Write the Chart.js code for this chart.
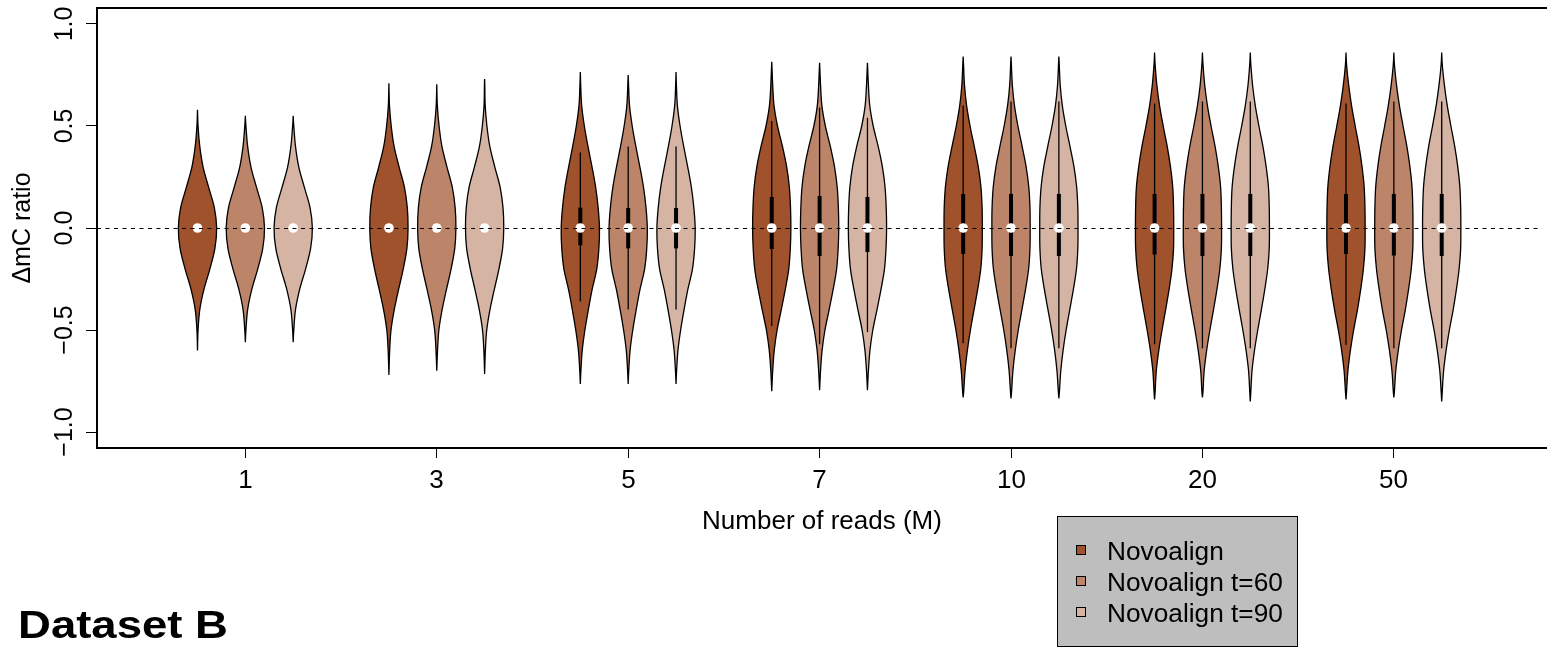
<!DOCTYPE html>
<html>
<head>
<meta charset="utf-8">
<title>Dataset B</title>
<script src="https://cdn.jsdelivr.net/npm/chart.js@4.4.1/dist/chart.umd.min.js"></script>
<style>
    html, body { margin: 0; padding: 0; background: #ffffff; }
    canvas { display: block; }
</style>
</head>
<body>
<canvas id="chart" width="1547" height="648"></canvas>
<script>
// number of reads (millions) on the x axis, one violin per aligner setting
var readCounts = ['1', '3', '5', '7', '10', '20', '50'];
var aligners = ['Novoalign', 'Novoalign t=60', 'Novoalign t=90'];
var yTicks = [-1, -0.5, 0, 0.5, 1];
var yTickLabels = ['\u22121.0', '\u22120.5', '0.0', '0.5', '1.0'];

// relative density (1 = widest) at these ratio levels, one row per read count
var densityLevels = [-0.8, -0.7, -0.6, -0.5, -0.4, -0.3, -0.2, -0.1, 0, 0.1, 0.2, 0.3, 0.4, 0.5, 0.6, 0.7, 0.8];
var densityByReads = [
    [0, 0, 0, 0.03, 0.12, 0.34, 0.65, 0.91, 1, 0.88, 0.58, 0.29, 0.12, 0.03, 0, 0, 0],
    [0, 0.01, 0.04, 0.11, 0.28, 0.51, 0.75, 0.94, 1, 0.96, 0.81, 0.53, 0.27, 0.12, 0.03, 0.01, 0],
    [0, 0.03, 0.10, 0.24, 0.42, 0.62, 0.86, 0.97, 1, 0.93, 0.80, 0.61, 0.40, 0.21, 0.07, 0.02, 0],
    [0, 0.05, 0.13, 0.28, 0.50, 0.71, 0.89, 0.97, 1, 0.98, 0.92, 0.78, 0.56, 0.30, 0.12, 0.05, 0],
    [0.03, 0.10, 0.22, 0.38, 0.57, 0.76, 0.92, 0.99, 1, 0.99, 0.93, 0.79, 0.58, 0.36, 0.18, 0.07, 0.02],
    [0.03, 0.09, 0.22, 0.39, 0.58, 0.76, 0.91, 0.99, 1, 0.99, 0.95, 0.83, 0.66, 0.45, 0.26, 0.12, 0.03],
    [0.03, 0.10, 0.23, 0.40, 0.60, 0.77, 0.91, 0.99, 1, 0.99, 0.95, 0.84, 0.68, 0.48, 0.29, 0.14, 0.03]
];

// per read count: [Novoalign, t=60, t=90]
var minValues = [
    [-0.60, -0.56, -0.56], [-0.72, -0.70, -0.715], [-0.765, -0.765, -0.765], [-0.80, -0.795, -0.795],
    [-0.83, -0.835, -0.835], [-0.84, -0.83, -0.85], [-0.84, -0.83, -0.85]
];
var maxValues = [
    [0.58, 0.55, 0.55], [0.71, 0.705, 0.73], [0.765, 0.75, 0.765], [0.815, 0.81, 0.81],
    [0.84, 0.84, 0.84], [0.86, 0.86, 0.86], [0.86, 0.86, 0.86]
];
var lowerQuartiles = [
    [0, 0, 0], [0, 0, 0], [-0.085, -0.10, -0.10], [-0.103, -0.137, -0.118],
    [-0.127, -0.137, -0.137], [-0.13, -0.137, -0.137], [-0.127, -0.135, -0.137]
];
var upperQuartiles = [
    [0, 0, 0], [0, 0, 0], [0.10, 0.098, 0.098], [0.152, 0.157, 0.152],
    [0.167, 0.167, 0.167], [0.167, 0.167, 0.167], [0.167, 0.167, 0.167]
];
var lowerWhiskers = [
    [0, 0, 0], [0, 0, 0], [-0.36, -0.40, -0.40], [-0.48, -0.57, -0.51],
    [-0.565, -0.59, -0.59], [-0.57, -0.59, -0.59], [-0.574, -0.59, -0.59]
];
var upperWhiskers = [
    [0, 0, 0], [0, 0, 0], [0.37, 0.40, 0.40], [0.525, 0.59, 0.54],
    [0.60, 0.62, 0.62], [0.61, 0.62, 0.62], [0.61, 0.62, 0.62]
];
var medians = [
    [0, 0, 0], [0, 0, 0], [0, 0, 0], [0, 0, 0], [0, 0, 0], [0, 0, 0], [0, 0, 0]
];

var fillColors = ['rgb(160, 82, 45)', 'rgb(188, 133, 106)', 'rgb(214, 180, 163)'];
var FONT = '"Liberation Sans", Arial, Helvetica, sans-serif';
var VIOLIN_HALF = 0.4;   // half width of the widest part, x units

function slot(g, s) {
    return g * 4 + s + 1;
}

function crisp(v) {
    return Math.round(v - 0.5) + 0.5;
}

function drawText(ctx, text, x, y, font, align, sx, rotate) {
    ctx.save();
    ctx.font = font;
    ctx.textAlign = align;
    ctx.textBaseline = 'alphabetic';
    ctx.fillStyle = '#000';
    ctx.translate(x, y);
    if (rotate) ctx.rotate(-Math.PI / 2);
    ctx.scale(sx, 1);
    ctx.fillText(text, 0, 0);
    ctx.restore();
}

// catmull-rom through the outline points
function spline(ctx, pts, first) {
    if (first) ctx.moveTo(pts[0].x, pts[0].y);
    else ctx.lineTo(pts[0].x, pts[0].y);
    for (var i = 0; i < pts.length - 1; i++) {
        var p0 = pts[i - 1] || pts[i],
            p1 = pts[i],
            p2 = pts[i + 1],
            p3 = pts[i + 2] || pts[i + 1];
        ctx.bezierCurveTo(
            p1.x + (p2.x - p0.x) / 6, p1.y + (p2.y - p0.y) / 6,
            p2.x - (p3.x - p1.x) / 6, p2.y - (p3.y - p1.y) / 6,
            p2.x, p2.y
        );
    }
}

function violinShape(g, s) {
    var lo = minValues[g][s], hi = maxValues[g][s];
    var prof = [{v: lo, w: 0}];
    for (var i = 0; i < densityLevels.length; i++) {
        var v = densityLevels[i];
        if (v > lo + 0.02 && v < hi - 0.02) prof.push({v: v, w: densityByReads[g][i]});
    }
    prof.push({v: hi, w: 0});
    return prof;
}

var violinPlugin = {
    id: 'violins',
    beforeDatasetsDraw: function (chart) {
        var ctx = chart.ctx, xs = chart.scales.x, ys = chart.scales.y;
        ctx.save();
        for (var g = 0; g < readCounts.length; g++) {
            for (var s = 0; s < aligners.length; s++) {
                var pos = slot(g, s);
                var prof = violinShape(g, s);
                var right = prof.map(function (p) {
                    return {x: xs.getPixelForValue(pos + p.w * VIOLIN_HALF), y: ys.getPixelForValue(p.v)};
                });
                var left = prof.slice().reverse().map(function (p) {
                    return {x: xs.getPixelForValue(pos - p.w * VIOLIN_HALF), y: ys.getPixelForValue(p.v)};
                });
                ctx.beginPath();
                spline(ctx, right, true);
                spline(ctx, left, false);
                ctx.closePath();
                ctx.fillStyle = fillColors[s];
                ctx.fill();
                ctx.lineWidth = 1.3;
                ctx.strokeStyle = '#000';
                ctx.stroke();

                var cx = xs.getPixelForValue(pos);
                // whisker
                ctx.beginPath();
                ctx.lineWidth = 1.3;
                ctx.moveTo(cx, ys.getPixelForValue(lowerWhiskers[g][s]));
                ctx.lineTo(cx, ys.getPixelForValue(upperWhiskers[g][s]));
                ctx.stroke();
                // quartile box
                var top = ys.getPixelForValue(upperQuartiles[g][s]);
                var bot = ys.getPixelForValue(lowerQuartiles[g][s]);
                ctx.fillStyle = '#000';
                ctx.fillRect(cx - 2, top, 4, bot - top);
            }
        }
        ctx.restore();
    },
    afterDatasetsDraw: function (chart) {
        var ctx = chart.ctx, xs = chart.scales.x, ys = chart.scales.y, a = chart.chartArea;
        ctx.save();
        // zero line
        var y0 = ys.getPixelForValue(0);
        ctx.beginPath();
        ctx.setLineDash([4, 4.5]);
        ctx.lineWidth = 1;
        ctx.strokeStyle = '#000';
        ctx.moveTo(a.left, crisp(y0));
        ctx.lineTo(a.right, crisp(y0));
        ctx.stroke();
        ctx.setLineDash([]);

        // frame (right side falls outside the canvas)
        ctx.lineWidth = 2;
        ctx.strokeRect(a.left, a.top, a.right - a.left + 10, a.bottom - a.top);

        // y axis
        ctx.lineWidth = 1;
        yTicks.forEach(function (t, i) {
            var y = crisp(ys.getPixelForValue(t));
            ctx.beginPath();
            ctx.moveTo(a.left - 11, y);
            ctx.lineTo(a.left, y);
            ctx.stroke();
            drawText(ctx, yTickLabels[i], 72, ys.getPixelForValue(t), '25px ' + FONT, 'center', 1, true);
        });
        drawText(ctx, '\u0394mC ratio', 30, y0, '25px ' + FONT, 'center', 1, true);

        // x axis
        readCounts.forEach(function (label, g) {
            var x = crisp(xs.getPixelForValue(g * 4 + 2));
            ctx.beginPath();
            ctx.moveTo(x, a.bottom);
            ctx.lineTo(x, a.bottom + 10);
            ctx.stroke();
            drawText(ctx, label, x, 488, '25px ' + FONT, 'center', 1.04, false);
        });
        drawText(ctx, 'Number of reads (M)', 822, 529, '25px ' + FONT, 'center', 1.04, false);

        // legend box
        ctx.fillStyle = '#bebebe';
        ctx.fillRect(1057, 516, 240, 130);
        ctx.lineWidth = 1;
        ctx.strokeStyle = '#000';
        ctx.strokeRect(1057.5, 516.5, 240, 130);
        var rows = [560, 591, 622];
        aligners.forEach(function (name, s) {
            ctx.fillStyle = fillColors[s];
            ctx.fillRect(1076.5, rows[s] - 14.5, 9, 9);
            ctx.strokeRect(1076.5, rows[s] - 14.5, 9, 9);
            drawText(ctx, name, 1107, rows[s], '25px ' + FONT, 'left', 1.05, false);
        });

        // panel title
        ctx.font = 'bold 38px ' + FONT;
        var w = ctx.measureText('Dataset B').width;
        drawText(ctx, 'Dataset B', 18, 638, 'bold 38px ' + FONT, 'left', 210 / w, false);
        ctx.restore();
    }
};

var datasets = aligners.map(function (name, s) {
    return {
        label: name,
        data: readCounts.map(function (r, g) {
            return {x: slot(g, s), y: medians[g][s]};
        }),
        pointRadius: 4.8,
        pointBackgroundColor: '#ffffff',
        pointBorderWidth: 0,
        showLine: false
    };
});

new Chart(document.getElementById('chart'), {
    type: 'scatter',
    data: {datasets: datasets},
    options: {
        responsive: false,
        devicePixelRatio: 1,
        animation: false,
        layout: {padding: {left: 97, top: 8, right: 0, bottom: 200}},
        scales: {
            x: {type: 'linear', min: -1.1, max: 29.1, display: false},
            y: {type: 'linear', min: -1.0784, max: 1.0784, display: false}
        },
        plugins: {
            legend: {display: false},
            tooltip: {enabled: false}
        },
        events: []
    },
    plugins: [violinPlugin]
});
</script>
</body>
</html>
